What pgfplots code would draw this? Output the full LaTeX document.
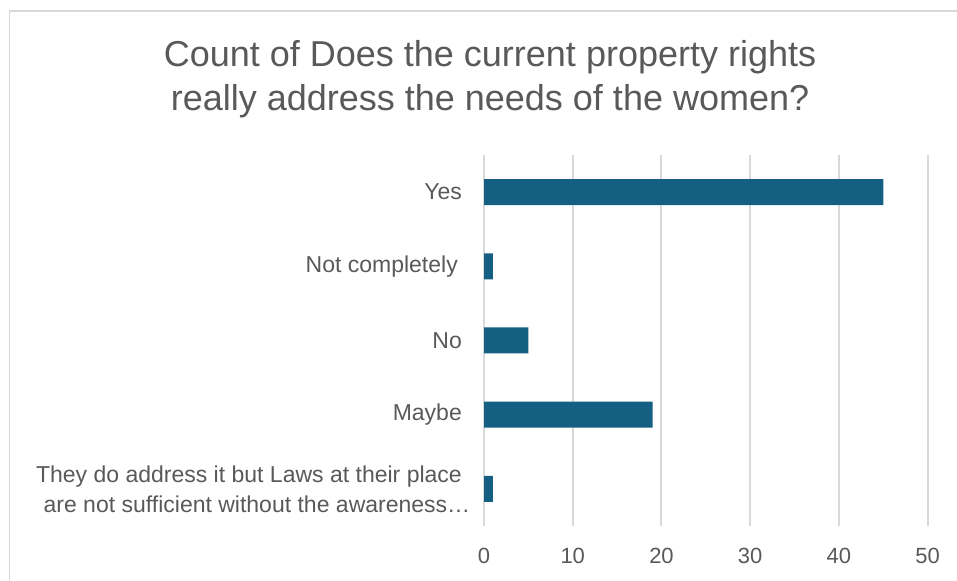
\documentclass[border=0pt]{standalone}
\usepackage{fontspec}
\setmainfont{Liberation Sans}
\usepackage{pgfplots}
\pgfplotsset{compat=1.18}
\definecolor{bar}{HTML}{156082}
\definecolor{txt}{HTML}{595959}
\definecolor{grd}{HTML}{D9D9D9}
\begin{document}
\begin{tikzpicture}[x=1bp,y=1bp]
\path[use as bounding box] (0,0) rectangle (957,581);
\draw[grd, line width=1.2bp] (9.5,0) -- (9.5,570) -- (957,570);
\node[anchor=base, text=txt, font=\fontsize{36bp}{44bp}\selectfont, inner sep=0] at (490,514) {Count of Does the current property rights};
\node[anchor=base, text=txt, font=\fontsize{36bp}{44bp}\selectfont, inner sep=0] at (490,470) {really address the needs of the women?};
\begin{axis}[
  at={(484bp,55bp)}, anchor=south west,
  scale only axis, width=443.7bp, height=371bp,
  xmin=0, xmax=50, ymin=-0.5, ymax=4.5, y dir=reverse,
  axis line style={draw=none},
  xmajorgrids, grid style={grd, line width=2bp},
  xtick={0,10,20,30,40,50},
  ytick={0,1,2,3,4},
  yticklabels={Yes, Not completely\kern4bp, No, Maybe, {They do address it but Laws at their place\\ are not sufficient without the awareness…\kern-16bp}},
  major tick length=0,
  /pgf/number format/assume math mode=true,
  tick label style={text=txt, inner sep=0},
  xticklabel style={font=\fontsize{22bp}{30bp}\selectfont, anchor=north, yshift=-22bp},
  yticklabel style={font=\fontsize{23bp}{30bp}\selectfont, anchor=east, align=center, xshift=-22bp},
  clip=false,
]
\addplot[xbar, bar width=26bp, bar shift=0pt, fill=bar, draw=none] coordinates {(45,0) (1,1) (5,2) (19,3) (1,4)};
\end{axis}
\end{tikzpicture}
\end{document}
